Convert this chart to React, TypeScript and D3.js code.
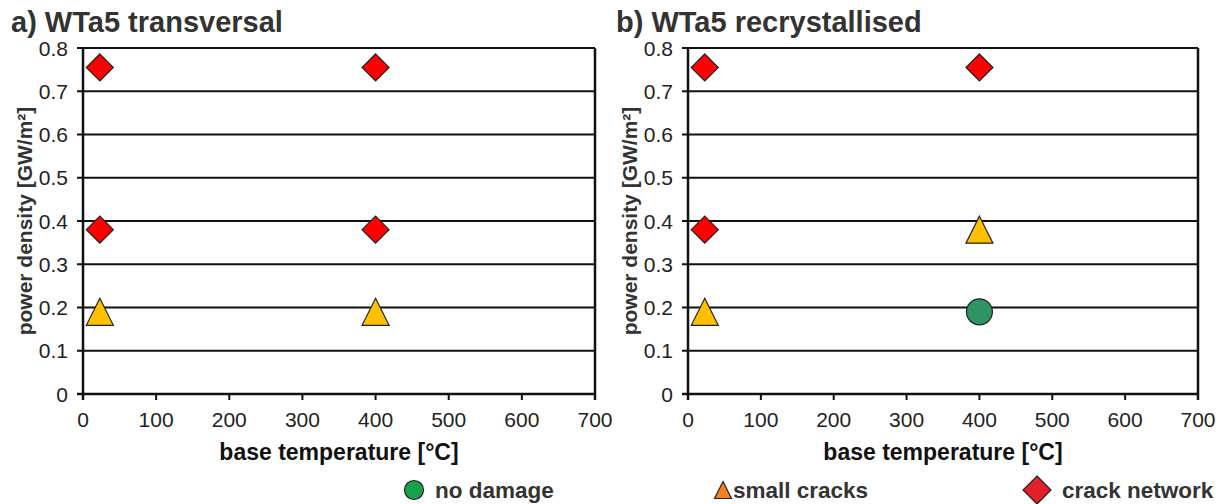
import React from "react";
import * as d3 from "d3";

const xTicks = [0, 100, 200, 300, 400, 500, 600, 700];
const yTicks = [0, 0.1, 0.2, 0.3, 0.4, 0.5, 0.6, 0.7, 0.8];
const yTickLabels = ["0", "0.1", "0.2", "0.3", "0.4", "0.5", "0.6", "0.7", "0.8"];

// panel a) WTa5 transversal
const aTemps = [23, 400, 23, 400, 23, 400];
const aPower = [0.755, 0.755, 0.38, 0.38, 0.19, 0.19];
const aDamage = ["crack", "crack", "crack", "crack", "small", "small"];

// panel b) WTa5 recrystallised
const bTemps = [23, 400, 23, 400, 23, 400];
const bPower = [0.755, 0.755, 0.38, 0.38, 0.19, 0.19];
const bDamage = ["crack", "crack", "crack", "small", "small", "none"];

const titles = ["a) WTa5 transversal", "b) WTa5 recrystallised"];
const legendLabels = ["no damage", "small cracks", "crack network"];

const plotColors: Record<string, string> = { none: "#2e9464", small: "#ffc000", crack: "#ff0000" };
const legendColors = ["#18a04a", "#f5821f", "#e3202a"];

const FONT = "Arial, 'Liberation Sans', Helvetica, sans-serif";

function Marker({ kind, cx, cy, fill, s }: { kind: string; cx: number; cy: number; fill: string; s: number }) {
  if (kind === "none") return <circle cx={cx} cy={cy} r={s / 2} fill={fill} stroke="#222" strokeWidth={1.2} />;
  if (kind === "small") {
    const h = s;
    return (
      <path
        d={`M${cx},${cy - h / 2} L${cx + s / 2},${cy + h / 2} L${cx - s / 2},${cy + h / 2} Z`}
        fill={fill}
        stroke="#222"
        strokeWidth={1.2}
      />
    );
  }
  return (
    <path
      d={`M${cx},${cy - s / 2} L${cx + s / 2},${cy} L${cx},${cy + s / 2} L${cx - s / 2},${cy} Z`}
      fill={fill}
      stroke="#222"
      strokeWidth={1.2}
    />
  );
}

function Panel({ x0, x1, temps, power, damage, title }: { x0: number; x1: number; temps: number[]; power: number[]; damage: string[]; title: string }) {
  const x = d3.scaleLinear().domain([0, 700]).range([x0, x1]);
  const y = d3.scaleLinear().domain([0, 0.8]).range([394, 48]);
  return (
    <g>
      <text x={x0 - 72} y={32} fontFamily={FONT} fontWeight="bold" fontSize={29} fill="#333">
        {title}
      </text>
      {yTicks.map((t, i) =>
        t > 0 ? <line key={"g" + i} x1={x0 - 6} x2={x1} y1={y(t)} y2={y(t)} stroke="#111" strokeWidth={2} /> : null
      )}
      {yTicks.map((t, i) => (
        <text key={"yl" + i} x={x0 - 15} y={y(t) + 7.5} textAnchor="end" fontFamily={FONT} fontSize={21} fill="#222">
          {yTickLabels[i]}
        </text>
      ))}
      {xTicks.map((t, i) => (
        <g key={"x" + i}>
          <line x1={x(t)} x2={x(t)} y1={y(0)} y2={y(0) + 6} stroke="#111" strokeWidth={2} />
          <text x={x(t)} y={427} textAnchor="middle" fontFamily={FONT} fontSize={21} fill="#222">
            {t}
          </text>
        </g>
      ))}
      <line x1={x0 - 6} x2={x1} y1={y(0)} y2={y(0)} stroke="#111" strokeWidth={2.5} />
      <line x1={x0} x2={x0} y1={y(0.8)} y2={y(0) + 6} stroke="#111" strokeWidth={2.5} />
      <line x1={x1} x2={x1} y1={y(0.8)} y2={y(0) + 6} stroke="#111" strokeWidth={2.5} />
      <text x={(x0 + x1) / 2} y={460} textAnchor="middle" fontFamily={FONT} fontWeight="bold" fontSize={23} fill="#111">
        base temperature [°C]
      </text>
      <text
        transform={`translate(${x0 - 51},${(y(0) + y(0.8)) / 2}) rotate(-90)`}
        textAnchor="middle"
        fontFamily={FONT}
        fontWeight="bold"
        fontSize={21}
        fill="#333"
      >
        power density [GW/m²]
      </text>
      {temps.map((t, i) => (
        <Marker key={"m" + i} kind={damage[i]} cx={x(t)} cy={y(power[i])} fill={plotColors[damage[i]]} s={damage[i] === "none" ? 26 : 27} />
      ))}
    </g>
  );
}

export default function App() {
  const legendX = [414, 723, 1037];
  const legendTextX = [435, 733, 1062];
  const legendKinds = ["none", "small", "crack"];
  const legendSize = [19, 17, 28];
  return (
    <svg width={1228} height={504} style={{ position: "absolute", left: 0, top: 0, background: "#fff" }}>
      <rect width={1228} height={504} fill="#fff" />
      <Panel x0={83} x1={595} temps={aTemps} power={aPower} damage={aDamage} title={titles[0]} />
      <Panel x0={688} x1={1198} temps={bTemps} power={bPower} damage={bDamage} title={titles[1]} />
      {legendLabels.map((l, i) => (
        <g key={"lg" + i}>
          <Marker kind={legendKinds[i]} cx={legendX[i]} cy={490} fill={legendColors[i]} s={legendSize[i]} />
          <text x={legendTextX[i]} y={498} fontFamily={FONT} fontWeight="bold" fontSize={22.5} fill="#333">
            {l}
          </text>
        </g>
      ))}
    </svg>
  );
}
